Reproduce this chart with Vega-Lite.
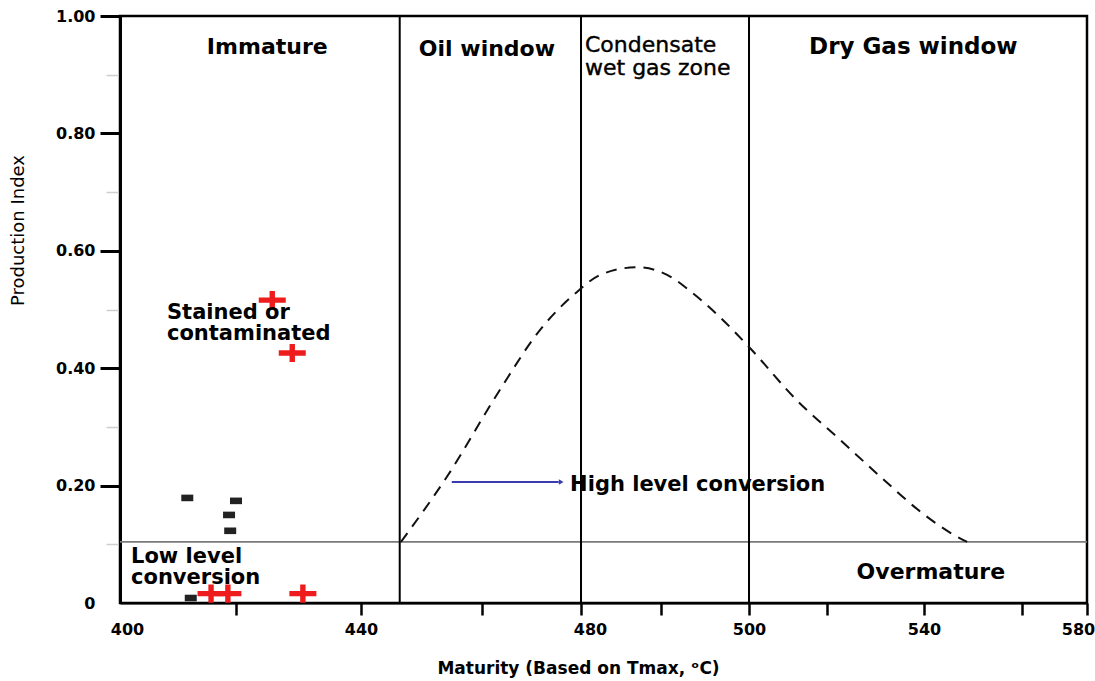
{
  "$schema": "https://vega.github.io/schema/vega-lite/v6.json",
  "width": 967,
  "height": 587,
  "autosize": {"type": "none"},
  "padding": {"left": 120, "top": 16, "right": 8, "bottom": 78},
  "background": "white",
  "config": {
    "view": {"stroke": "black", "strokeWidth": 2.5},
    "font": "DejaVu Sans"
  },
  "datasets": {
    "hline": [{"x": 400, "x2": 580, "y": 0.104}],
    "vlines": [{"x": 446.4, "y": 0, "y2": 1}, {"x": 480, "y": 0, "y2": 1}, {"x": 500, "y": 0, "y2": 1}],
    "curve": [
      {"x": 446.6, "y": 0.104}, {"x": 454.2, "y": 0.215}, {"x": 463.6, "y": 0.363},
      {"x": 471.7, "y": 0.465}, {"x": 479.2, "y": 0.530}, {"x": 482.4, "y": 0.559},
      {"x": 487.0, "y": 0.572}, {"x": 490.7, "y": 0.559}, {"x": 493.6, "y": 0.528},
      {"x": 496.7, "y": 0.487}, {"x": 500.3, "y": 0.434}, {"x": 512.3, "y": 0.345},
      {"x": 522.7, "y": 0.278}, {"x": 530.9, "y": 0.216}, {"x": 539.2, "y": 0.156},
      {"x": 545.3, "y": 0.120}, {"x": 548.8, "y": 0.104}
    ],
    "arrow": [{"x": 455, "x2": 475.5, "y": 0.206}],
    "arrowhead": [{"x": 476, "y": 0.206}],
    "dashes": [
      {"x": 411.6, "y": 0.179}, {"x": 420.0, "y": 0.174}, {"x": 418.8, "y": 0.150},
      {"x": 419.0, "y": 0.123}, {"x": 412.2, "y": 0.0085}
    ],
    "crosses": [
      {"x": 425.8, "y": 0.516}, {"x": 429.0, "y": 0.426}, {"x": 415.7, "y": 0.016},
      {"x": 418.6, "y": 0.016}, {"x": 430.7, "y": 0.016}
    ],
    "zones": [
      {"x": 425.0, "y": 0.947, "text": "Immature"},
      {"x": 461.0, "y": 0.944, "text": "Oil window"},
      {"x": 541.4, "y": 0.053, "text": "Overmature"}
    ],
    "drygas": [{"x": 537.8, "y": 0.947, "text": "Dry Gas window"}],
    "notes": [
      {"x": 408.1, "y": 0.494, "text": "Stained or"},
      {"x": 408.1, "y": 0.458, "text": "contaminated"},
      {"x": 401.9, "y": 0.078, "text": "Low level"},
      {"x": 401.9, "y": 0.043, "text": "conversion"},
      {"x": 477.8, "y": 0.201, "text": "High level conversion"}
    ],
    "condensate": [
      {"x": 480.5, "y": 0.951, "text": "Condensate"},
      {"x": 480.5, "y": 0.911, "text": "wet gas zone"}
    ]
  },
  "encoding": {
    "x": {
      "field": "x",
      "type": "quantitative",
      "title": "Maturity (Based on Tmax, ᵒC)",
      "scale": {
        "domain": [400, 420, 440, 460, 480, 490, 500, 520, 540, 560, 580],
        "range": [0, 116, 241, 362, 461, 541, 629, 707, 804, 902, 967],
        "nice": false,
        "zero": false
      },
      "axis": {
        "values": [400, 420, 440, 460, 480, 490, 500, 520, 540, 560, 580],
        "labelExpr": "indexof([400,440,480,500,540,580], datum.value) >= 0 ? datum.label : ''",
        "grid": false,
        "domainColor": "black",
        "domainWidth": 2,
        "tickColor": "black",
        "tickWidth": 2.5,
        "tickSize": 12,
        "tickOpacity": {"condition": {"test": "datum.value == 400", "value": 0}, "value": 1},
        "labelOffset": {"condition": [
          {"test": "datum.value == 400", "value": 7},
          {"test": "datum.value == 480", "value": 9},
          {"test": "datum.value == 580", "value": -9}
        ], "value": 0},
        "labelFont": "DejaVu Sans",
        "labelFontWeight": "bold",
        "labelFontSize": 16,
        "labelColor": "black",
        "labelPadding": 6,
        "labelFlush": false,
        "labelOverlap": false,
        "labelBound": false,
        "titleFont": "DejaVu Sans",
        "titleFontWeight": "bold",
        "titleFontSize": 17,
        "titleColor": "black",
        "titleX": 458,
        "titleY": 65,
        "titleAlign": "center",
        "titleBaseline": "middle"
      }
    },
    "y": {
      "field": "y",
      "type": "quantitative",
      "title": "Production Index",
      "scale": {"domain": [0, 1], "nice": false, "zero": false},
      "axis": {
        "values": [0, 0.1, 0.2, 0.3, 0.4, 0.5, 0.6, 0.7, 0.8, 0.9, 1],
        "labelExpr": "datum.value == 0 ? '0' : (round(datum.value*10) % 2 == 1 ? '' : format(datum.value, '.2f'))",
        "grid": false,
        "domainColor": "black",
        "domainWidth": 3,
        "tickColor": {"condition": {"test": "round(datum.value*10) % 2 == 1", "value": "#cfcfcf"}, "value": "black"},
        "tickWidth": {"condition": {"test": "round(datum.value*10) % 2 == 1", "value": 1.5}, "value": 3},
        "tickSize": {"condition": {"test": "round(datum.value*10) % 2 == 1", "value": 14}, "value": 20},
        "tickOpacity": {"condition": {"test": "datum.value == 0", "value": 0}, "value": 1},
        "labelFont": "DejaVu Sans",
        "labelFontWeight": "bold",
        "labelFontSize": 16,
        "labelColor": "black",
        "labelPadding": 5,
        "labelOverlap": false,
        "labelBound": false,
        "titleFont": "DejaVu Sans",
        "titleFontWeight": "normal",
        "titleFontSize": 18,
        "titleColor": "black",
        "titleAngle": -90,
        "titleX": -102,
        "titleY": 214,
        "titleAlign": "center",
        "titleBaseline": "middle"
      }
    }
  },
  "layer": [
    {
      "data": {"name": "hline"},
      "mark": {"type": "rule", "color": "#7a7a7a", "strokeWidth": 1.8},
      "encoding": {"x2": {"field": "x2"}}
    },
    {
      "data": {"name": "vlines"},
      "mark": {"type": "rule", "color": "black", "strokeWidth": 2},
      "encoding": {"y2": {"field": "y2"}}
    },
    {
      "data": {"name": "curve"},
      "mark": {"type": "line", "color": "#111111", "strokeWidth": 2, "strokeDash": [11, 8], "interpolate": "monotone"},
      "encoding": {}
    },
    {
      "data": {"name": "arrow"},
      "mark": {"type": "rule", "color": "#3b3bb0", "strokeWidth": 2},
      "encoding": {"x2": {"field": "x2"}}
    },
    {
      "data": {"name": "arrowhead"},
      "mark": {"type": "point", "shape": "triangle-right", "size": 30, "filled": true, "color": "#3b3bb0", "opacity": 1}
    },
    {
      "data": {"name": "dashes"},
      "mark": {"type": "point", "shape": "M-1,-0.55H1V0.55H-1Z", "size": 144, "filled": true, "color": "#222222", "opacity": 1}
    },
    {
      "data": {"name": "crosses"},
      "mark": {"type": "point", "shape": "M-1,-0.2H-0.2V-0.67H0.2V-0.2H1V0.2H0.2V0.67H-0.2V0.2H-1Z", "size": 729, "filled": true, "color": "#ee1c1c", "opacity": 1}
    },
    {
      "data": {"name": "zones"},
      "mark": {"type": "text", "font": "DejaVu Sans", "fontWeight": "bold", "fontSize": 22, "align": "center", "baseline": "middle", "color": "black"},
      "encoding": {"text": {"field": "text"}}
    },
    {
      "data": {"name": "drygas"},
      "mark": {"type": "text", "font": "DejaVu Sans", "fontWeight": "bold", "fontSize": 23, "align": "center", "baseline": "middle", "color": "black"},
      "encoding": {"text": {"field": "text"}}
    },
    {
      "data": {"name": "notes"},
      "mark": {"type": "text", "font": "DejaVu Sans", "fontWeight": "bold", "fontSize": 21, "align": "left", "baseline": "middle", "color": "black"},
      "encoding": {"text": {"field": "text"}}
    },
    {
      "data": {"name": "condensate"},
      "mark": {"type": "text", "font": "DejaVu Sans", "fontWeight": "normal", "fontSize": 22, "align": "left", "baseline": "middle", "color": "black", "stroke": "black", "strokeWidth": 0.4},
      "encoding": {"text": {"field": "text"}}
    }
  ]
}
